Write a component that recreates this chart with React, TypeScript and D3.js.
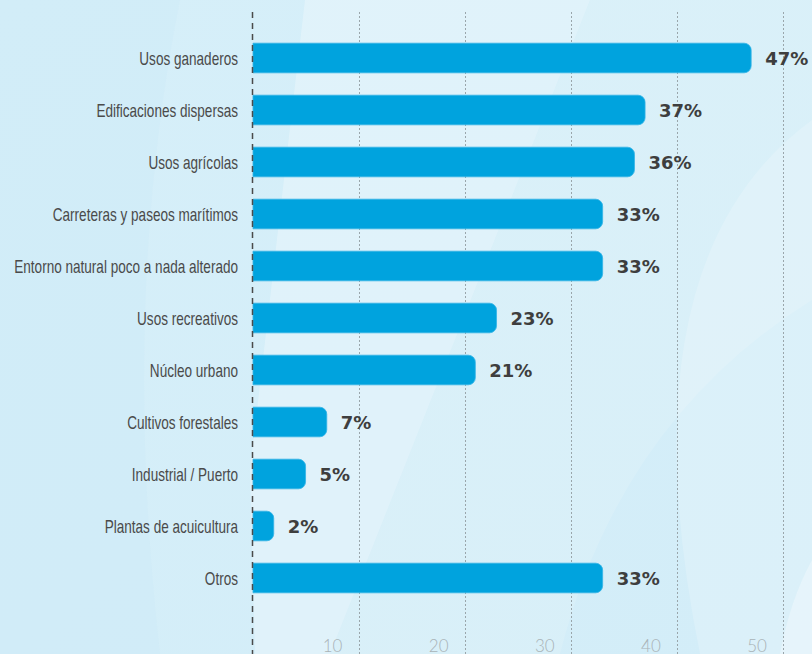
import React from "react";
import * as d3 from "d3";

const categories = [
  "Usos ganaderos",
  "Edificaciones dispersas",
  "Usos agrícolas",
  "Carreteras y paseos marítimos",
  "Entorno natural poco a nada alterado",
  "Usos recreativos",
  "Núcleo urbano",
  "Cultivos forestales",
  "Industrial / Puerto",
  "Plantas de acuicultura",
  "Otros",
];
const values = [47, 37, 36, 33, 33, 23, 21, 7, 5, 2, 33];
const ticks = [10, 20, 30, 40, 50];

const W = 812;
const H = 654;

function barPath(x0: number, x1: number, y: number, h: number, r: number) {
  const rr = Math.min(r, (x1 - x0) / 2, h / 2);
  const p = d3.path();
  p.moveTo(x0, y);
  p.lineTo(x1 - rr, y);
  p.arcTo(x1, y, x1, y + rr, rr);
  p.lineTo(x1, y + h - rr);
  p.arcTo(x1, y + h, x1 - rr, y + h, rr);
  p.lineTo(x0, y + h);
  p.closePath();
  return p.toString();
}

export default function App() {
  const x = d3.scaleLinear().domain([0, 50]).range([252.5, 783]);
  const y = d3
    .scaleBand<string>()
    .domain(categories)
    .range([32, 604])
    .paddingInner(0.43)
    .paddingOuter(0.215);
  const bw = y.bandwidth();

  return (
    <svg
      width={W}
      height={H}
      style={{ position: "absolute", left: 0, top: 0, display: "block" }}
    >
      <defs>
        <linearGradient id="bg" x1="0" y1="0" x2="1" y2="1">
          <stop offset="0" stopColor="#d6eff9" />
          <stop offset="1" stopColor="#d3edf8" />
        </linearGradient>
      </defs>
      <rect width={W} height={H} fill="url(#bg)" />
      {/* soft background shapes */}
      <path d="M305,0 L590,0 L330,654 L255,654 L250,470 Z" fill="#ffffff" opacity={0.28} />
      <path d="M590,0 L1000,0 L812,300 Q620,420 560,654 L330,654 Z" fill="#ffffff" opacity={0.12} />
      <path d="M812,120 Q620,260 700,654 L812,654 Z" fill="#ffffff" opacity={0.18} />
      <path d="M812,560 Q790,600 780,654 L812,654 Z" fill="#ffffff" opacity={0.3} />
      <path d="M0,0 L180,0 Q120,300 160,654 L0,654 Z" fill="#c9e9f6" opacity={0.25} />

      {/* grid lines */}
      {ticks.map((t) => (
        <line
          key={"g" + t}
          x1={Math.round(x(t)) + 0.5}
          x2={Math.round(x(t)) + 0.5}
          y1={12}
          y2={H}
          stroke="#9aa6ab"
          strokeWidth={1}
          strokeDasharray="2,2"
        />
      ))}
      {/* tick labels */}
      {ticks.map((t) => (
        <text
          key={"t" + t}
          x={x(t) - 26}
          y={651.5}
          textAnchor="middle"
          fontFamily="Lato, 'Open Sans', sans-serif"
          fontWeight={300}
          fontSize={17}
          fill="#a9b3b7"
        >
          {t}
        </text>
      ))}

      {/* bars */}
      {categories.map((c, i) => (
        <path
          key={"b" + c}
          d={barPath(x(0) + 0.5, x(values[i]), y(c)!, bw, 7)}
          fill="#00a3de"
          stroke="#34b4e6"
          strokeWidth={0.8}
        />
      ))}

      {/* zero line */}
      <line
        x1={252.5}
        x2={252.5}
        y1={12}
        y2={H}
        stroke="#4a4a4a"
        strokeWidth={1.5}
        strokeDasharray="6,5"
      />

      {/* category labels */}
      {categories.map((c) => (
        <text
          key={"c" + c}
          transform={`translate(238,${y(c)! + bw / 2 + 6.5}) scale(0.775,1)`}
          textAnchor="end"
          fontFamily="'Liberation Sans', Arial, sans-serif"
          fontSize={17.5}
          fill="#4a4a4a"
        >
          {c}
        </text>
      ))}

      {/* value labels */}
      {categories.map((c, i) => (
        <text
          key={"v" + c}
          x={x(values[i]) + 14}
          y={y(c)! + bw / 2 + 6.5}
          fontFamily="'DejaVu Sans', sans-serif"
          fontWeight={700}
          fontSize={18}
          fill="#3e3e3e"
        >
          {values[i] + "%"}
        </text>
      ))}
    </svg>
  );
}
